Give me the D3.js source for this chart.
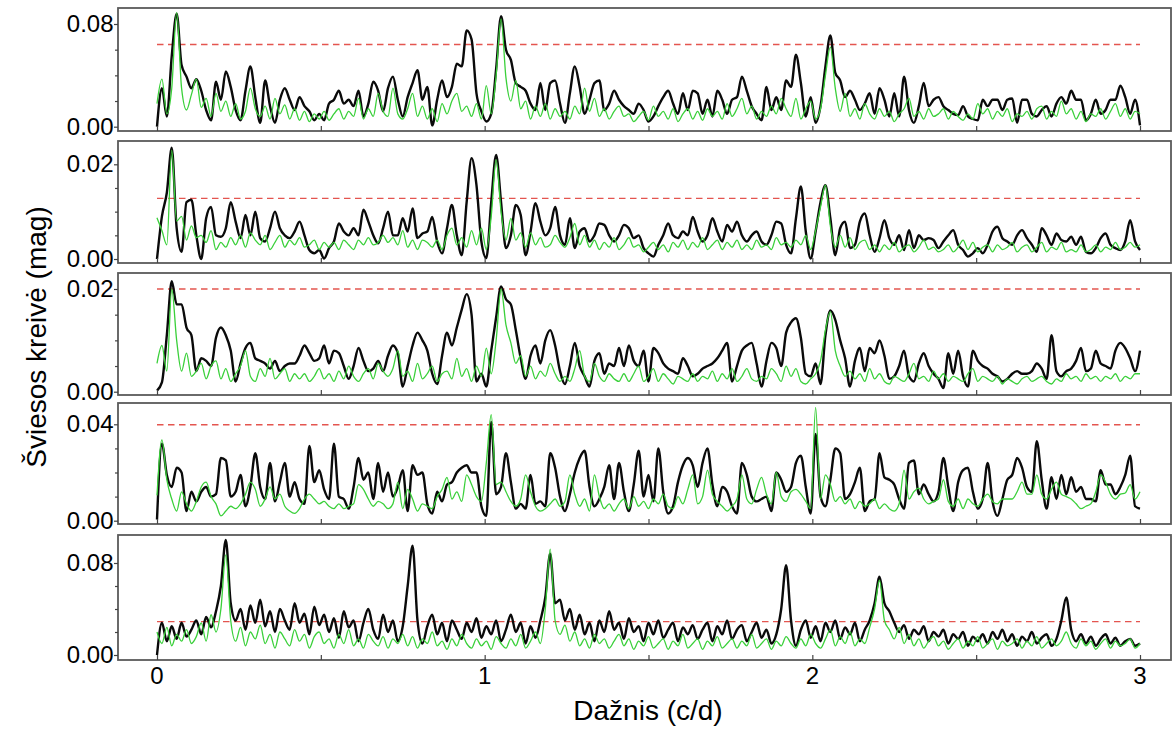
<!DOCTYPE html>
<html>
<head>
<meta charset="utf-8">
<script src="https://cdn.jsdelivr.net/npm/d3@7/dist/d3.min.js"></script>
<style>
  html, body { margin: 0; padding: 0; background: #fff; }
  svg { display: block; font-family: "Liberation Sans", Arial, Helvetica, sans-serif; }
</style>
</head>
<body>
<svg id="chart" width="1173" height="729"></svg>
<script>
// Amplitude spectra of five light curves, sampled every 0.015 c/d from 0 to 3 c/d.
// Values are in millimagnitudes (mmag); black = original curve, green = comparison.
const freqStep = 0.015;
const freqTicks = [0, 1, 2, 3];
const freqMinorTicks = [0, 0.5, 1, 1.5, 2, 2.5, 3];

const p1Black = [0,30,8,55,88,48,39,30,37,28, 13,5,35,21,43,31,13,5,28,47, 23,3,36,16,3,21,30,21,13,23,
  16,12,5,10,5,18,21,28,18,21, 16,28,8,18,35,28,12,30,39,21, 8,23,34,44,21,31,1,21,36,23,
  31,49,47,75,68,26,12,4,10,45, 86,60,52,34,31,28,18,13,34,13, 34,36,18,3,26,47,31,10,21,34,
  36,13,18,28,21,16,13,10,18,13, 4,8,16,23,28,18,10,26,13,28, 26,10,21,8,28,21,10,21,23,39,
  28,16,10,5,31,13,23,13,36,31, 56,34,8,23,3,16,47,71,42,36, 23,28,21,13,18,26,10,30,21,8,
  26,8,39,13,3,16,34,16,21,23, 16,13,10,9,16,8,6,5,21,16, 21,21,13,21,22,3,21,21,10,8,
  13,16,8,18,23,18,28,21,21,5, 10,21,10,13,21,21,32,23,10,21, 1];
const p1Green = [18,37,10,30,89,30,13,25,37,15, 22,8,26,12,20,8,18,6,12,30, 14,8,16,6,22,10,17,6,14,5,
  12,4,10,6,12,5,10,14,6,12, 8,22,6,14,8,26,12,8,30,10, 6,14,26,8,16,6,14,4,18,10,
  20,26,12,16,8,18,6,32,10,40, 84,38,20,36,14,20,6,16,8,18, 6,14,8,12,6,16,10,30,12,22,
  8,14,6,12,16,8,10,4,8,12, 5,16,8,12,6,14,4,10,14,6, 12,5,14,8,12,6,18,8,14,22,
  10,16,6,12,8,16,10,22,14,8, 22,6,14,20,6,14,40,62,30,12, 26,8,14,6,18,10,6,14,8,12,
  4,10,14,22,8,12,6,14,8,10, 14,6,12,8,5,10,6,18,10,14, 6,12,8,14,4,10,8,12,6,14,
  16,6,12,8,20,10,14,6,12,4, 10,8,14,6,12,18,8,14,6,12, 10];
const p1Threshold = 64;

const p2Black = [0,9,14,23.5,6.5,1.5,12,12.5,5,0, 8.6,11,5,4.7,6.5,12,7.9,4.4,9.3,5, 10,4.4,3.7,6.5,10,6.5,5,4.4,5.8,7.9,
  5,1.9,1.2,1.9,0.1,2.3,3.7,7.5,5.8,5, 6.5,5,10.4,7.9,5,3.3,6.5,10,5,5, 8.6,5.8,10.7,4.4,5.4,5.8,8.9,3.7,1.2,6.5,
  11.4,5,0.8,12,21.3,15.6,3.7,0.2,12,22, 12,2.3,5,11.4,9.3,0.8,5.8,11.8,7.9,5, 6.5,11,5,3,8.6,2.3,5.8,6.5,3.7,5,
  7.5,7.2,5,3.7,5,7.2,6.5,4.4,5,2.3, 1.2,0.5,3,5,7.5,5,4.4,5.8,5,8.9, 5.8,3.7,5,8.6,5.8,3.7,7.2,5.8,7.9,5,
  3.7,5,5.8,3.7,3,5,7.9,7.5,3,1.2, 8.6,15.3,5.8,0.1,5.8,12,15.6,8.6,0.8,6.5, 7.9,2.3,3,7.9,9.6,5,1.5,4.4,8.2,4.4,
  3,5,1.9,6.1,2.3,5,4,4.4,4,2.3, 3.7,5,6.1,3,1.9,0.5,1.2,2.3,1.2,3, 5.8,6.8,4.4,3.7,3,5,6.1,4.4,3,1.5,
  6.5,5,3,5.4,4,3.7,4.7,3,4.7,1.5, 1.2,2.3,4.4,5.4,3,2.3,1.9,3.7,8.2,3.7, 1.9];
const p2Green = [8.7,6,3,23,8,9,4,7,4.5,5, 3.5,6,2,3.5,2.5,4.5,3,5,2.5,5.5, 4,3,5,2,3.5,5,2.5,4,3,4.5,
  2.5,3,4,2,3.5,2.5,3.5,2,4,3, 2,4,3,4.5,3,3.5,5,3.5,4.5,3, 6,2.5,4,2,4,3.5,2.5,4,2,5,
  6.5,3,4.5,2.5,6,3,6.5,2,9,21, 10,4,8.6,4,5.5,2.5,5.5,3,4.5,2.5, 3,5,3.5,2.5,4.5,7.5,3,5,2.5,4,
  2,3.5,2.5,4.5,2,3,4.5,2.5,3,1.5, 2.5,3.5,2,3,1.5,3.5,2.5,4,2,3.5, 2.5,4.5,2,3,4,2,3.5,2.5,4,2,
  3,2,4,2.5,3,2,4.5,3,3.5,2.5, 4,3,5,2,6,11,15.6,7,2.5,5, 2.5,4.5,2,3.5,4,2,3,1.5,3,2,
  3.5,1.5,2.5,3,1.5,2.5,4,2,2.5,1.5, 2,3,1.5,2.5,4,2,3.5,1.5,2.5,3, 1.5,3,2,2.5,3.5,1.5,2.5,3,1.5,2.5,
  3.5,1.5,2.5,2,3.5,1.5,2,1.5,3,1.5, 2,3,1.5,2.5,2,3.5,2,2.5,3.5,2.5, 3];
const p2Threshold = 12.8;

const p3Black = [0.2,1.8,11,21.5,17,17,12.5,11,4,6.5, 6,5,10.5,12.5,11,8,2,5.5,8.5,9.5, 6.5,6,5.5,4.5,6,4,5,5.5,5.5,7,
  9,7.5,6,6.5,9,5.5,8,7.5,5,2.5, 5,8.5,6,4,4.5,6,4,7,9,7.5, 1,5,9,11.5,10,8,3.5,1.5,7,11.5,
  9,12.5,16,19,15,2,3.5,1,8,14.5, 20.5,18,17,12,6.5,2.5,7,9,5.5,10, 12,9,4,1.5,5,9.5,5,3,1,6,
  7.5,3.5,5.5,5,8.5,5,9,6,5,8, 2,8.5,7.5,5.5,4.5,4,3.5,6.5,5,3, 3.5,4.5,5,5.5,6.5,8,9.5,2,5,8,
  9,9.5,5.5,1,6,9.5,8.5,5,11.5,13.5, 14.3,10.5,3.5,3,5.5,1.5,11,15.8,14,10, 6.5,1,6,8.5,4,8.5,7.5,10,7,2.5,
  3,5,8,3,2,5.5,7.5,5,3.5,2.5, 0.7,7.5,3.5,8,3,1,8,6,5,4.5, 3.5,3,2,2.5,3.5,4,3.5,3.5,4,5.5,
  4.5,2.5,11,4,3,4,4.5,6,8.5,4, 4.5,8,5.5,5,4.5,8,9.5,8.5,6.5,4, 8];
const p3Green = [5.5,9,4,20,10,4,7.5,3,4,5.5, 2.5,5,6,2.5,4.5,2,3.5,5,8,3, 2,4.5,3,6.5,2.5,3.5,4.5,2,3.5,2.5,
  3.5,2,3,4.5,2.5,3.5,2,4,2.5,5, 3,2,3.5,4.5,2.5,5.5,4,3,4.5,8, 3,4,2,5.5,2.5,3.5,5,2,3.5,4,
  2.5,6.5,3,4.5,2,5,3,8.5,3.5,10, 20,13,9.5,5.5,7,3,5,2.5,4,3, 5.5,3.5,2,3,2,4.5,8,3,2,5.5,
  3,2,3.5,2.5,2,3.5,2,3.5,5,2, 3,4.5,2,3.5,2.5,1.5,3,2.5,2,3.5, 2,3,2.5,4,2,3.5,2.5,4.5,2,3,
  4.5,2.5,2,3,2.5,4.5,3.5,2,5,3, 4.5,2,1.5,2.5,3.5,6,12,15.6,8,5, 3,4,2.5,3.5,2,4.5,2.5,3.5,2,1.5,
  3,2.5,2,3.5,5.5,2.5,3,2,4,2.5, 3.5,2,3,2.5,2,3.5,4.5,2,3,2.5, 2,3,1.5,2.5,2,1.5,2.5,3,2,2.5,
  3,2,1.5,2.5,2,3.5,2.5,3,2,3.5, 2.5,3,2,3,2.5,3.5,2,3,2.5,3.5, 3.5];
const p3Threshold = 20;

const p4Black = [0.5,32,19,14,22,20,4,12,8,12, 14,10,11,26,25,10,12,19,6,14, 28,14,9,24,8,16,24,10,16,9,
  7,31,16,21,13,9,32,10,9,5, 14,26,17,20,9,24,12,20,10,14, 21,4,23,19,20,7,3,12,8,15,
  16,20,22,23,20,20,6,2,41,11, 14,28,16,5,7,5,19,7,8,6, 28,22,10,4,11,20,26,29,14,6,
  9,14,23,9,24,12,4,15,29,10, 19,8,30,12,3,6,16,23,26,23, 14,24,30,15,6,14,12,6,3,24,
  19,10,8,9,10,4,20,17,12,14, 24,27,14,3,36,10,6,17,30,28, 9,11,16,22,4,8,9,28,18,17,
  15,9,5,24,25,11,15,11,8,12, 26,14,4,16,21,22,12,5,9,24, 8,2,9,17,19,26,22,14,12,33,
  17,5,18,9,19,11,18,12,14,9, 9,8,21,15,15,11,14,19,27,6, 5];
const p4Green = [10.5,33.5,17,9,4,12,7,4,8,14, 16,10,7,2,4,6,5,7,11,16, 13,6,9,14,9,11,6,4,3,5,
  9,11,9,7,8,6,5,7,5,6, 7,15,13,9,6,8,7,5,7,16, 5,13,9,4,7,6,5,10,13,18,
  9,12,8,19,15,10,8,24,44,15, 16,12,8,6,9,19,12,6,4,5, 7,9,6,8,19,11,6,9,4,19,
  10,5,7,4,7,9,5,10,6,8, 5,9,7,11,6,5,10,7,13,19, 7,10,21,11,8,6,4,6,9,19,
  9,7,13,18,11,7,20,10,8,12, 13,11,8,5,47,9,19,15,8,10, 7,9,5,8,6,7,9,5,7,5,
  4,7,21,9,12,13.5,9,7,8,9, 17,8,6,9,5,9,7,6,9,11, 8,7,9,9,9,12,16,11,11,19,
  11,9,13,16,11,10,9,7,5,6, 7,12,19,16,11,9,11,11.5,15,9, 12];
const p4Threshold = 39.8;

const p5Black = [0,28,12,25,14,28,16,22,30,18, 33,24,38,60,100,45,30,40,22,43, 28,48,25,38,20,40,30,22,45,28,
  36,18,42,26,35,20,32,15,38,24, 30,12,28,40,22,14,35,20,30,12, 25,60,95,30,10,25,35,18,28,12,
  30,22,14,28,20,32,15,25,18,30, 12,22,35,20,28,10,25,15,30,50, 88,45,48,30,40,22,35,18,28,12,
  30,20,38,22,28,14,32,20,25,12, 28,18,30,15,22,28,12,24,18,26, 14,22,28,12,25,18,30,14,22,26,
  12,20,28,15,22,10,18,40,78,30, 8,22,30,15,25,12,28,20,30,14, 24,18,28,12,22,30,45,68,45,38,
  28,20,26,14,22,18,25,12,20,16, 22,10,18,14,20,8,16,12,18,10, 20,14,22,12,18,8,16,12,20,10,
  15,18,8,14,30,50,22,12,18,10, 16,8,14,18,10,15,8,12,14,8, 10];
const p5Green = [20,10,24,8,18,12,22,10,16,28, 12,35,20,40,87,30,12,24,8,20, 14,26,10,18,6,20,14,8,22,12,
  18,6,16,20,10,14,6,18,10,22, 8,14,6,18,12,8,16,6,14,10, 18,8,16,6,14,10,20,8,12,5,
  14,8,18,10,6,14,8,12,5,16, 10,6,14,8,18,6,12,20,10,40, 92,30,18,26,12,20,8,14,6,18,
  10,14,6,12,18,8,14,5,12,8, 16,6,10,14,5,12,8,18,6,10, 14,5,12,8,16,6,10,14,6,12,
  8,18,6,10,14,5,12,8,16,10, 6,14,8,18,10,6,14,22,8,16, 10,20,8,14,10,24,40,65,30,22,
  14,24,10,18,8,14,6,12,16,8, 12,5,10,14,6,12,8,16,6,10, 14,5,12,8,10,14,6,12,8,16,
  6,10,14,8,12,20,10,6,14,8, 12,5,10,14,6,12,8,10,14,6, 10];
const p5Threshold = 29;

// Panel layout: frame edges and the pixel rows of the zero line and the labelled top tick.
const panels = [
  { black: p1Black, green: p1Green, threshold: p1Threshold, tickMax: 0.08, minor: [0.02, 0.04, 0.06], top: 8,   bottom: 131, zeroY: 126.7, maxY: 24 },
  { black: p2Black, green: p2Green, threshold: p2Threshold, tickMax: 0.02, minor: [0.005, 0.01, 0.015], top: 141, bottom: 263, zeroY: 259, maxY: 164.3 },
  { black: p3Black, green: p3Green, threshold: p3Threshold, tickMax: 0.02, minor: [0.005, 0.01, 0.015], top: 273, bottom: 395, zeroY: 391.7, maxY: 289 },
  { black: p4Black, green: p4Green, threshold: p4Threshold, tickMax: 0.04, minor: [0.01, 0.02, 0.03], top: 403, bottom: 524, zeroY: 520.7, maxY: 424.3 },
  { black: p5Black, green: p5Green, threshold: p5Threshold, tickMax: 0.08, minor: [0.02, 0.04, 0.06], top: 535, bottom: 660, zeroY: 655, maxY: 563 }
];

const frameLeft = 118, frameRight = 1171;
const svg = d3.select("#chart");
const x = d3.scaleLinear().domain([0, 3]).range([157, 1140]);
const fmt = d3.format(".2f");

panels.forEach((p, k) => {
  const y = d3.scaleLinear().domain([0, p.tickMax]).range([p.zeroY, p.maxY]);
  const g = svg.append("g");

  const clipId = "clip" + k;
  svg.append("clipPath").attr("id", clipId)
    .append("rect").attr("x", frameLeft).attr("y", p.top)
    .attr("width", frameRight - frameLeft).attr("height", p.bottom - p.top);

  const line = d3.line()
    .x((d, i) => x(i * freqStep))
    .y(d => y(d / 1000))
    .curve(d3.curveMonotoneX);

  const plot = g.append("g").attr("clip-path", `url(#${clipId})`);

  plot.append("line")
    .attr("x1", x(0)).attr("x2", x(3))
    .attr("y1", y(p.threshold / 1000)).attr("y2", y(p.threshold / 1000))
    .attr("stroke", "#e4554f").attr("stroke-width", 1.4)
    .attr("stroke-dasharray", "6.5,4.5");

  plot.append("path").datum(p.black)
    .attr("d", line).attr("fill", "none")
    .attr("stroke", "#0a0a0a").attr("stroke-width", 2.4)
    .attr("stroke-linejoin", "round");

  plot.append("path").datum(p.green)
    .attr("d", line).attr("fill", "none")
    .attr("stroke", "#3ad03a").attr("stroke-width", 1.3)
    .attr("stroke-linejoin", "round");

  // frame
  g.append("rect")
    .attr("x", frameLeft).attr("y", p.top)
    .attr("width", frameRight - frameLeft).attr("height", p.bottom - p.top)
    .attr("fill", "none").attr("stroke", "#5a5a5a").attr("stroke-width", 1.8);

  // y axis: labelled ticks and minor ticks
  const yAxis = g.append("g").attr("transform", `translate(${frameLeft},0)`)
    .call(d3.axisLeft(y).tickValues([0, p.tickMax]).tickSize(4).tickPadding(0.5).tickFormat(fmt));
  g.append("g").attr("transform", `translate(${frameLeft},0)`)
    .call(d3.axisLeft(y).tickValues(p.minor).tickSize(3).tickFormat(""));

  // x ticks along the bottom edge, pointing inward
  g.append("g").attr("transform", `translate(0,${p.bottom})`)
    .call(d3.axisBottom(x).tickValues(freqMinorTicks).tickSize(-5).tickFormat(""));

  g.selectAll(".domain").remove();
  g.selectAll(".tick line").attr("stroke", "#444").attr("stroke-width", 1.2);
  yAxis.selectAll("text").attr("font-size", 24).attr("fill", "#000");
});

// frequency labels under the bottom panel
const last = panels[panels.length - 1];
svg.append("g").selectAll("text").data(freqTicks).join("text")
  .attr("x", d => x(d)).attr("y", last.bottom + 24)
  .attr("text-anchor", "middle").attr("font-size", 24).attr("fill", "#000")
  .text(d => d);

svg.append("text")
  .attr("x", 648).attr("y", 720)
  .attr("text-anchor", "middle").attr("font-size", 28).attr("fill", "#000")
  .text("Dažnis (c/d)");

svg.append("text")
  .attr("transform", "translate(46,337) rotate(-90)")
  .attr("text-anchor", "middle").attr("font-size", 28).attr("fill", "#000")
  .text("Šviesos kreivė (mag)");
</script>
</body>
</html>
